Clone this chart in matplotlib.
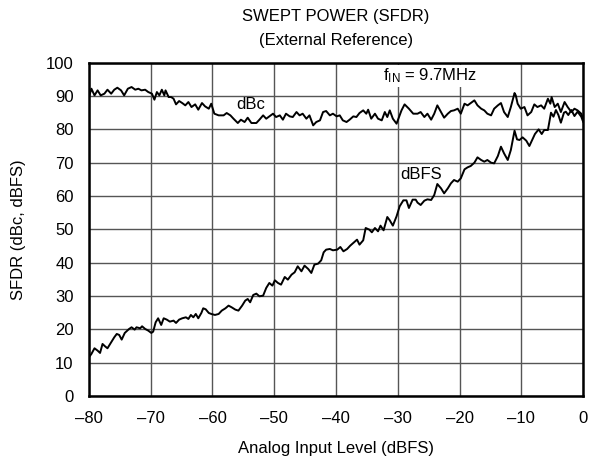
import matplotlib
matplotlib.use("Agg")
import matplotlib.pyplot as plt

plt.rcParams['font.family'] = ['Liberation Sans', 'DejaVu Sans']
plt.rcParams['mathtext.default'] = 'regular'

# dBc curve
dbc_x = [-80.0, -79.6, -79.1, -78.6, -78.1, -77.5, -77.0, -76.4, -75.9, -75.4,
         -74.8, -74.3, -73.7, -73.1, -72.5, -72.0, -71.5, -70.9, -70.4, -69.8,
         -69.4, -69.0, -68.6, -68.2, -67.8, -67.6, -67.1, -66.7, -66.3, -65.9,
         -65.4, -64.9, -64.4, -63.9, -63.4, -62.8, -62.3, -61.7, -61.2, -60.6,
         -60.2, -59.7, -59.0, -58.2, -57.7, -57.1, -56.6, -55.9, -55.4, -54.8,
         -54.3, -53.7, -52.9, -52.4, -51.8, -51.3, -50.8, -50.2, -49.7, -49.1,
         -48.6, -48.1, -47.5, -47.0, -46.4, -45.9, -45.4, -44.8, -44.3, -43.7,
         -43.2, -42.6, -42.1, -41.6, -41.0, -40.5, -39.9, -39.4, -38.9, -38.3,
         -37.8, -37.2, -36.7, -36.2, -35.6, -35.1, -34.8, -34.3, -33.7, -33.2,
         -32.6, -32.1, -31.7, -31.3, -30.8, -30.2, -29.8, -29.4, -28.9, -28.2,
         -27.5, -26.8, -26.3, -25.7, -25.2, -24.6, -24.1, -23.6, -23.0, -22.5,
         -21.9, -21.4, -20.9, -20.3, -19.8, -19.2, -18.7, -18.2, -17.6, -17.1,
         -16.5, -16.0, -15.5, -14.9, -14.4, -13.8, -13.3, -12.8, -12.2, -11.7,
         -11.1, -10.9, -10.6, -10.1, -9.5, -9.0, -8.4, -7.9, -7.4, -6.8,
         -6.3, -5.7, -5.3, -5.1, -4.6, -4.1, -3.6, -3.0, -2.5, -1.9,
         -1.4, -0.9, -0.3, 0.0]
dbc_y = [89.7, 92.2, 90.2, 91.7, 90.2, 90.7, 91.9, 90.7, 91.9, 92.5,
         91.7, 90.2, 92.2, 92.7, 91.9, 92.2, 91.7, 91.9, 91.2, 90.7,
         88.9, 91.2, 90.2, 91.9, 90.2, 91.7, 89.7, 89.7, 89.2, 87.5,
         88.5, 87.9, 87.2, 88.2, 86.7, 87.5, 85.9, 87.9, 86.9, 86.2,
         87.7, 84.7, 84.2, 84.2, 84.9, 84.2, 83.2, 81.9, 82.9, 82.2,
         83.5, 81.9, 81.9, 82.9, 84.2, 83.2, 83.9, 84.7, 83.7, 84.2,
         82.9, 84.7, 83.9, 83.7, 85.2, 84.2, 84.7, 83.2, 84.2, 81.2,
         82.2, 82.7, 85.2, 85.5, 84.2, 84.7, 83.9, 84.2, 82.7, 82.2,
         82.9, 83.9, 83.7, 84.9, 85.7, 84.7, 85.9, 83.2, 84.7, 83.2,
         82.7, 85.2, 83.7, 85.7, 83.2, 81.7, 83.7, 85.7, 87.5, 86.2,
         84.7, 84.7, 85.2, 83.7, 84.7, 82.9, 84.7, 87.2, 85.2, 83.5,
         84.7, 85.5, 85.7, 86.2, 84.7, 87.7, 87.2, 87.9, 88.7, 87.2,
         86.2, 85.7, 84.7, 84.2, 86.2, 87.2, 87.9, 85.2, 83.7, 86.7,
         90.9, 90.2, 87.7, 86.2, 86.7, 84.2, 85.2, 87.5, 86.7, 87.2,
         86.2, 89.2, 87.7, 89.7, 86.7, 87.7, 85.2, 88.2, 86.7, 85.2,
         86.2, 85.7, 84.7, 83.2]

# dBFS curve
dbfs_x = [-80.0, -79.6, -79.1, -78.6, -78.2, -77.8, -77.4, -77.0, -76.4, -75.9,
          -75.5, -75.1, -74.7, -74.2, -73.5, -73.1, -72.6, -72.3, -71.7, -71.4,
          -70.9, -70.4, -69.9, -69.6, -69.2, -68.8, -68.3, -67.9, -67.4, -66.9,
          -66.3, -65.9, -65.4, -64.9, -64.3, -63.9, -63.5, -63.1, -62.7, -62.3,
          -61.8, -61.5, -61.1, -60.6, -60.2, -59.6, -59.0, -58.5, -57.9, -57.4,
          -56.9, -56.3, -55.8, -55.2, -54.7, -54.3, -53.9, -53.4, -52.9, -52.4,
          -51.8, -51.3, -50.8, -50.3, -49.9, -49.4, -48.9, -48.3, -47.8, -47.2,
          -46.7, -46.2, -45.6, -45.1, -44.5, -44.0, -43.5, -42.9, -42.4, -42.0,
          -41.6, -41.0, -40.5, -39.8, -39.3, -38.8, -38.2, -37.7, -37.1, -36.6,
          -36.2, -35.6, -35.2, -34.6, -34.2, -33.7, -33.2, -32.8, -32.3, -31.7,
          -31.3, -30.8, -30.2, -29.7, -29.1, -28.6, -28.2, -27.6, -27.1, -26.8,
          -26.3, -25.7, -25.2, -24.6, -24.1, -23.6, -23.0, -22.5, -21.9, -21.4,
          -20.9, -20.3, -19.8, -19.2, -18.7, -18.2, -17.6, -17.1, -16.5, -16.0,
          -15.5, -14.9, -14.4, -13.8, -13.3, -12.8, -12.2, -11.7, -11.1, -10.7,
          -10.3, -9.8, -9.2, -8.7, -8.3, -7.8, -7.2, -6.7, -6.3, -5.7,
          -5.2, -4.8, -4.4, -4.0, -3.6, -3.1, -2.8, -2.4, -1.9, -1.4,
          -0.9, -0.3, 0.0]
dbfs_y = [11.6, 12.6, 14.3, 13.6, 12.9, 15.6, 14.9, 14.3, 16.1, 17.6,
          18.6, 18.3, 16.9, 18.9, 20.1, 20.6, 19.9, 20.6, 20.3, 20.9,
          20.1, 19.6, 18.9, 19.3, 22.1, 23.3, 21.3, 23.3, 22.9, 22.3,
          22.6, 21.9, 22.9, 23.3, 23.6, 23.1, 24.3, 23.6, 24.6, 23.3,
          24.9, 26.3, 26.0, 24.9, 24.6, 24.3, 24.6, 25.6, 26.3, 27.1,
          26.6, 25.9, 25.6, 27.1, 28.6, 29.1, 28.1, 30.3, 30.7, 29.9,
          30.1, 32.4, 33.9, 33.1, 34.7, 33.9, 33.4, 35.7, 34.9, 36.4,
          37.1, 38.9, 37.4, 39.1, 38.1, 36.9, 39.4, 39.7, 40.7, 43.1,
          43.9, 44.1, 43.7, 43.9, 44.7, 43.4, 44.1, 45.1, 46.1, 46.9,
          45.4, 46.7, 50.4, 49.9, 49.1, 50.4, 49.4, 51.1, 49.7, 53.7,
          52.7, 51.1, 53.9, 56.9, 58.7, 58.7, 56.4, 58.9, 58.9, 58.0,
          57.3, 58.6, 59.0, 58.8, 60.3, 63.6, 62.3, 60.8, 62.3, 63.8,
          64.8, 64.3, 65.3, 68.0, 68.6, 69.0, 70.0, 71.6, 70.8, 70.3,
          70.8, 70.0, 69.8, 72.0, 74.8, 72.8, 70.8, 73.8, 79.6, 77.0,
          76.8, 77.6, 76.6, 75.0, 76.6, 78.6, 80.0, 78.6, 79.8, 79.8,
          85.0, 83.8, 85.8, 84.3, 82.0, 85.0, 85.3, 84.3, 85.8, 84.0,
          85.3, 83.8, 82.3]

x_ticks = [-80, -70, -60, -50, -40, -30, -20, -10, 0]
y_ticks = [0, 10, 20, 30, 40, 50, 60, 70, 80, 90, 100]

fig = plt.figure(figsize=(5.89, 4.68), dpi=100)
ax = fig.add_axes([0.151, 0.154, 0.839, 0.712])

ax.plot(dbc_x, dbc_y, color='black', lw=1.4, zorder=3)
ax.plot(dbfs_x, dbfs_y, color='black', lw=1.4, zorder=3)

ax.set_xlim(-80, 0)
ax.set_ylim(0, 100)
ax.set_xticks(x_ticks)
ax.set_xticklabels([str(t).replace('-', '\u2013') for t in x_ticks])
ax.set_yticks(y_ticks)
ax.tick_params(length=0, labelsize=12, pad=11)
ax.grid(True, color='#555555', lw=1.0)
for s in ax.spines.values():
    s.set_linewidth(1.8)
    s.set_zorder(5)

ax.set_xlabel('Analog Input Level (dBFS)', fontsize=12, labelpad=11)
ax.set_ylabel('SFDR (dBc, dBFS)', fontsize=12, labelpad=14)
ax.set_title('SWEPT POWER (SFDR)\n(External Reference)', fontsize=12,
             pad=13, linespacing=1.75)

ax.text(-53.8, 87.4, 'dBc', fontsize=12, ha='center', va='center', zorder=4)
ax.text(-26.3, 66.4, 'dBFS', fontsize=12, ha='center', va='center', zorder=4)
ax.text(-24.7, 96.0, 'f$_{IN}$ = 9.7MHz', fontsize=12, ha='center', va='center',
        zorder=4, bbox=dict(facecolor='white', edgecolor='none', pad=1))

fig.savefig('out.png', dpi=100)
